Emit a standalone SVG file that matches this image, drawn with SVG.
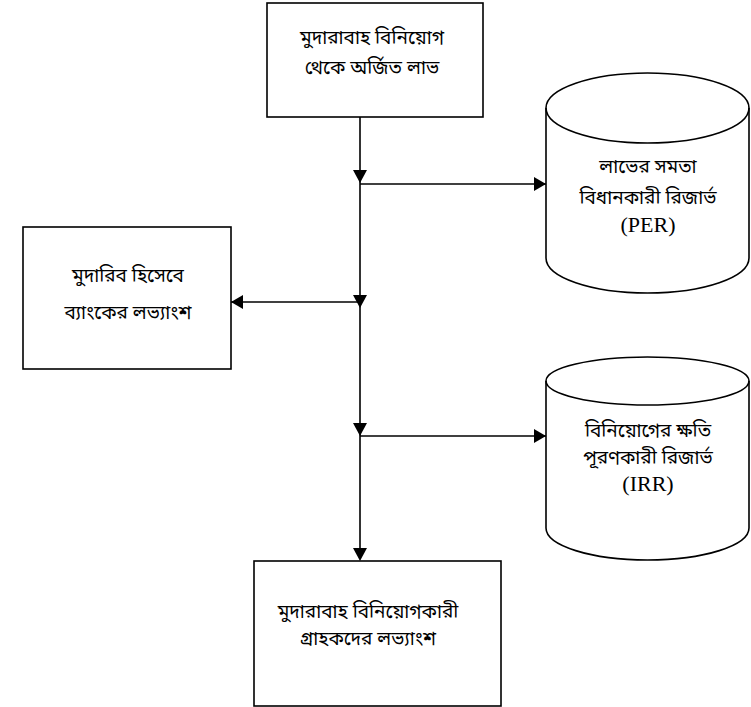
<svg xmlns="http://www.w3.org/2000/svg" width="751" height="707" viewBox="0 0 751 707">
<style>
.box{fill:#fff;stroke:#000;stroke-width:1.6}
.line{fill:none;stroke:#000;stroke-width:1.6}
.bn{font-family:"Noto Sans Bengali","Noto Sans","DejaVu Sans",sans-serif;font-size:19px;font-weight:400;text-anchor:middle;fill:#000}
.lat{font-family:"Liberation Serif",serif;font-size:22px;text-anchor:middle;fill:#000}
.head{fill:#000;stroke:none}
</style>
<defs>
<marker id="arr" viewBox="0 0 12 14" refX="12" refY="7" markerWidth="12" markerHeight="14" markerUnits="userSpaceOnUse" orient="auto">
<path d="M0,0 L12,7 L0,14 Z" fill="#000"/>
</marker>
</defs>
<g id="connectors">
<line class="line" x1="360" y1="117" x2="360" y2="549"/>
<polygon class="head" points="353,170 367,170 360,183"/>
<polygon class="head" points="353,295 367,295 360,308"/>
<polygon class="head" points="353,423 367,423 360,436"/>
<polygon class="head" points="353,548 367,548 360,561"/>
<line class="line" x1="360" y1="184" x2="546" y2="184" marker-end="url(#arr)"/>
<line class="line" x1="360" y1="302" x2="231" y2="302" marker-end="url(#arr)"/>
<line class="line" x1="360" y1="436" x2="546" y2="436" marker-end="url(#arr)"/>
</g>
<g id="node-top">
<rect class="box" x="267" y="3" width="216" height="114"/>
<text class="bn" x="372" y="44">মুদারাবাহ বিনিয়োগ</text>
<text class="bn" x="372" y="74">থেকে অর্জিত লাভ</text>
</g>
<g id="node-per">
<path class="box" d="M546,108 A101.5,35 0 0 1 749,108 L749,258 A101.5,35 0 0 1 546,258 Z"/>
<path class="line" d="M546,108 A101.5,35 0 0 0 749,108"/>
<text class="bn" x="648" y="173">লাভের সমতা</text>
<text class="bn" x="648" y="204">বিধানকারী রিজার্ভ</text>
<text class="lat" x="648" y="232">(PER)</text>
</g>
<g id="node-bank">
<rect class="box" x="23" y="227" width="208" height="142"/>
<text class="bn" x="128" y="282">মুদারিব হিসেবে</text>
<text class="bn" x="128" y="319">ব্যাংকের  লভ্যাংশ</text>
</g>
<g id="node-irr">
<path class="box" d="M546,381 A101.5,24 0 0 1 749,381 L749,528 A101.5,32 0 0 1 546,528 Z"/>
<path class="line" d="M546,381 A101.5,24 0 0 0 749,381"/>
<text class="bn" x="648" y="437">বিনিয়োগের ক্ষতি</text>
<text class="bn" x="648" y="464">পূরণকারী রিজার্ভ</text>
<text class="lat" x="648" y="491">(IRR)</text>
</g>
<g id="node-clients">
<rect class="box" x="254" y="561" width="247" height="145"/>
<text class="bn" x="368" y="618">মুদারাবাহ বিনিয়োগকারী</text>
<text class="bn" x="368" y="645">গ্রাহকদের লভ্যাংশ</text>
</g>
</svg>
